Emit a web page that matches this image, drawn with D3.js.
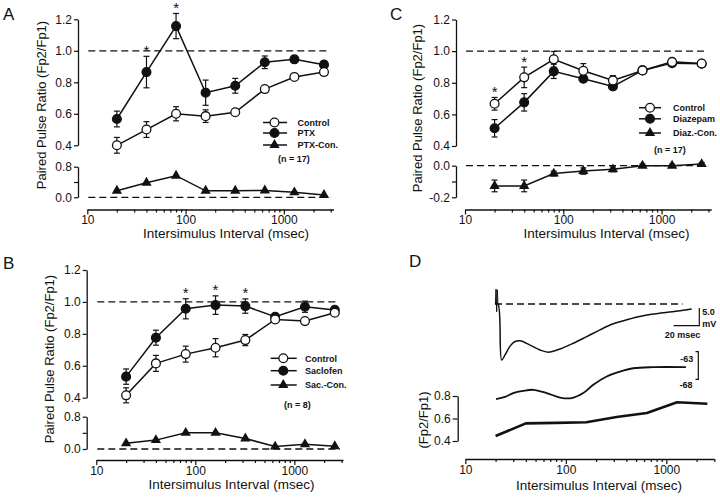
<!DOCTYPE html>
<html><head><meta charset="utf-8">
<script src="https://cdn.jsdelivr.net/npm/d3@7"></script>
<style>
body{margin:0;background:#fff;}
svg{display:block;}
text{font-family:"Liberation Sans",Arial,Helvetica,sans-serif;fill:#111;}
</style></head><body>
<svg id="fig" width="720" height="500"></svg>
<script>
// ---------- data ----------
const intervals = [20, 40, 80, 160, 320, 640, 1280, 2560];
const xMajor = [10, 100, 1000];

// Panel A
const ctrlA    = [0.40, 0.50, 0.60, 0.585, 0.61, 0.757, 0.834, 0.865];
const ctrlAErr = [0.05, 0.05, 0.045, 0.04, 0.01, 0.01, 0.01, 0.01];
const ptxA     = [0.567, 0.865, 1.157, 0.734, 0.778, 0.927, 0.946, 0.912];
const ptxAErr  = [0.05, 0.10, 0.08, 0.08, 0.047, 0.04, 0.02, 0.015];
const ptxConA  = [0.17, 0.38, 0.565, 0.17, 0.17, 0.18, 0.13, 0.06];
const starsA   = [40, 80];
const legendA  = ["Control", "PTX", "PTX-Con."];
const nA = "(n = 17)";

// Panel B
const ctrlB    = [0.415, 0.615, 0.673, 0.713, 0.761, 0.89, 0.88, 0.932];
const ctrlBErr = [0.047, 0.05, 0.05, 0.057, 0.035, 0.01, 0.01, 0.01];
const sacB     = [0.532, 0.776, 0.957, 0.98, 0.974, 0.907, 0.97, 0.95];
const sacBErr  = [0.048, 0.047, 0.063, 0.058, 0.045, 0.02, 0.035, 0.01];
const sacConB  = [0.14, 0.22, 0.40, 0.40, 0.26, 0.06, 0.12, 0.07];
const starsB   = [80, 160, 320];
const legendB  = ["Control", "Saclofen", "Sac.-Con."];
const nB = "(n = 8)";

// Panel C
const ctrlC     = [0.667, 0.834, 0.948, 0.876, 0.815, 0.878, 0.932, 0.922];
const ctrlCErr  = [0.04, 0.065, 0.05, 0.045, 0.03, 0.015, 0.015, 0.01];
const diazC     = [0.512, 0.676, 0.872, 0.825, 0.777, 0.878, 0.924, 0.92];
const diazCErr  = [0.055, 0.055, 0.045, 0.02, 0.02, 0.015, 0.015, 0.01];
const diazConC  = [-0.128, -0.128, -0.05, -0.034, -0.023, 0.0, 0.0, 0.01];
const diazConCErr = [0.037, 0.037, 0.015, 0.02, 0.015, 0.01, 0.01, 0.01];
const starsC    = [20, 40];
const legendC   = ["Control", "Diazepam", "Diaz.-Con."];
const nC = "(n = 17)";

// Panel D
const pprD = [0.444, 0.557, 0.561, 0.566, 0.613, 0.649, 0.744, 0.731];
const epspT = [0, 2.3, 5.2, 7.8, 11.7, 15.6, 19.5, 27.2, 35.0, 41.5, 50.6, 60.9, 71.4, 81.7, 92.1, 105.1, 118.1, 131.0, 144.0, 153.1];
const epspV = [0, 0, -15.8, -14.4, -11.9, -10.6, -10.4, -11.6, -13.0, -13.6, -12.7, -11.1, -9.2, -7.3, -5.6, -4.2, -3.1, -2.5, -1.9, -1.4];
const artifactT = [0.3, 0.8, 1.3, 1.8, 2.3];
const artifactV = [0, 4.2, -2.2, 4.0, 0];
const restT = [0.8, 7.8, 14.2, 21.8, 29.8, 40.2, 50.6, 59.7, 68.7, 76.5, 86.9, 97.3, 107.6, 123.2, 148.6];
const restV = [-71.6, -71.2, -70.5, -70.1, -69.9, -70.5, -71.3, -71.4, -70.5, -69.0, -67.5, -66.6, -66.0, -65.8, -65.8];

// ---------- drawing ----------
const svg = d3.select("#fig");
const INK = "#111";
const FONT = "'Liberation Sans',Arial,Helvetica,sans-serif";
const SMALL = 9;

function logTicks(max) {
  const t = [];
  for (let e = 1; e <= 3; e++) for (let m = 1; m <= 9; m++) { const v = m * Math.pow(10, e); if (v <= max) t.push(v); }
  return t;
}
function styleAxis(ax, fs) {
  ax.attr("font-size", fs).attr("font-family", FONT);
  ax.select(".domain").attr("stroke", INK).attr("stroke-width", 1.3);
  ax.selectAll(".tick line").attr("stroke", INK).attr("stroke-width", 1.2);
}
function xAxis(g, x, y, title, tx, ty) {
  const ax = g.append("g").attr("transform", `translate(0,${y})`)
    .call(d3.axisBottom(x).tickValues(logTicks(x.domain()[1])).tickSize(5).tickSizeOuter(0).tickPadding(1)
      .tickFormat(d => xMajor.includes(d) ? String(d) : ""));
  styleAxis(ax, 12);
  ax.selectAll(".tick").filter(d => !xMajor.includes(d)).select("line").attr("y2", 3);
  g.append("text").attr("x", tx).attr("y", ty).attr("text-anchor", "middle").attr("font-size", 13.5).text(title);
}
function yAxis(g, y, xPos, ticks, labeled) {
  const ax = g.append("g").attr("transform", `translate(${xPos},0)`)
    .call(d3.axisLeft(y).tickValues(ticks).tickSize(4).tickSizeOuter(0).tickPadding(2)
      .tickFormat(d => labeled.some(l => Math.abs(l - d) < 1e-9) ? d.toFixed(1) : ""));
  styleAxis(ax, 12);
  return ax;
}
function yTitle(g, cx, cy, txt) {
  g.append("text").attr("transform", `translate(${cx},${cy}) rotate(-90)`).attr("dy", "0.35em")
    .attr("text-anchor", "middle").attr("font-size", 13).text(txt);
}
function dashed(g, x1, x2, y) {
  g.append("line").attr("x1", x1).attr("x2", x2).attr("y1", y).attr("y2", y)
    .attr("stroke", INK).attr("stroke-width", 1.3).attr("stroke-dasharray", "7,4");
}
const tri = d3.symbol().type(d3.symbolTriangle).size(46);

function series(g, x, y, vals, errs, kind) {
  const pts = intervals.map((t, i) => ({ t, v: vals[i], e: errs ? errs[i] : 0 }));
  g.append("path").datum(pts).attr("fill", "none").attr("stroke", INK).attr("stroke-width", 1.5)
    .attr("d", d3.line().x(d => x(d.t)).y(d => y(d.v)));
  if (errs) {
    const eb = g.append("g").attr("stroke", INK).attr("stroke-width", 1.2);
    pts.forEach(d => {
      const cx = x(d.t);
      eb.append("line").attr("x1", cx).attr("x2", cx).attr("y1", y(d.v - d.e)).attr("y2", y(d.v + d.e));
      [d.v - d.e, d.v + d.e].forEach(v => eb.append("line").attr("x1", cx - 3).attr("x2", cx + 3).attr("y1", y(v)).attr("y2", y(v)));
    });
  }
  pts.forEach(d => marker(g, x(d.t), y(d.v), kind));
}
function marker(g, cx, cy, kind) {
  if (kind === "tri") {
    g.append("path").attr("d", tri).attr("transform", `translate(${cx},${cy})`).attr("fill", INK);
  } else {
    g.append("circle").attr("cx", cx).attr("cy", cy).attr("r", 4.4)
      .attr("fill", kind === "open" ? "#fff" : INK).attr("stroke", INK).attr("stroke-width", 1.3);
  }
}
function stars(g, x, y, vals, errs, list) {
  list.forEach(t => {
    const i = intervals.indexOf(t);
    const top = y(vals[i] + errs[i]) - 5;
    g.append("text").attr("x", x(t)).attr("y", top + 4.5).attr("text-anchor", "middle").attr("font-size", 15).text("*");
  });
}
function legend(g, labels, L) {
  const kinds = ["open", "filled", "tri"];
  labels.forEach((lab, i) => {
    const yy = L.rows[i];
    g.append("line").attr("x1", L.x1).attr("x2", L.x2).attr("y1", yy).attr("y2", yy).attr("stroke", INK).attr("stroke-width", 1.5);
    marker(g, L.mx, yy, kinds[i]);
    g.append("text").attr("x", L.tx).attr("y", yy + 3.3).attr("font-size", SMALL).attr("font-weight", "bold").text(lab);
  });
  g.append("text").attr("x", L.nx).attr("y", L.ny + 3.3).attr("font-size", SMALL).attr("font-weight", "bold").text(L.n);
}
function letter(x, y, s) {
  svg.append("text").attr("x", x).attr("y", y).attr("font-size", 17).text(s);
}

const upperTicks = [0.4, 0.6, 0.8, 1.0, 1.2];
const xTitle = "Intersimulus Interval (msec)";
const yTitleTxt = "Paired Pulse Ratio (Fp2/Fp1)";

function pprPanel(c) {
  const g = svg.append("g");
  yAxis(g, c.yU, c.yAxisX, upperTicks, upperTicks);
  yAxis(g, c.yL, c.yAxisX, c.lowTicks, c.lowLabels);
  xAxis(g, c.x, c.xAxisY, xTitle, c.xtx, c.xty);
  yTitle(g, c.ytx, c.yty, yTitleTxt);
  const r = c.x.range();
  dashed(g, r[0] + 1, r[1] - 5, c.yU(1.0));
  dashed(g, r[0] + 1, r[1] - 3, c.yL(0));
  series(g, c.x, c.yL, c.diff, c.diffErr, "tri");
  series(g, c.x, c.yU, c.treat, c.treatErr, "filled");
  series(g, c.x, c.yU, c.ctrl, c.ctrlErr, "open");
  stars(g, c.x, c.yU, c.starVals, c.starErrs, c.stars);
  legend(g, c.labels, c.L);
}

// Panel A
const xA = d3.scaleLog().domain([10, 3200]).range([87.3, 333.5]);
pprPanel({
  x: xA, yU: d3.scaleLinear().domain([0.4, 1.2]).range([145.3, 19.3]),
  yL: d3.scaleLinear().domain([0, 0.8]).range([197.3, 166.7]),
  yAxisX: 78, xAxisY: 209.5, lowTicks: [0, 0.4, 0.8], lowLabels: [0, 0.8],
  xtx: 226, xty: 237.5, ytx: 41.5, yty: 105,
  ctrl: ctrlA, ctrlErr: ctrlAErr, treat: ptxA, treatErr: ptxAErr, diff: ptxConA, diffErr: null,
  stars: starsA, starVals: ptxA, starErrs: ptxAErr, labels: legendA,
  L: { x1: 263, x2: 287, mx: 274.5, tx: 297.5, rows: [122.5, 133, 145], n: nA, nx: 278, ny: 158.5 }
});
letter(3, 20, "A");

// Panel B
const xB = d3.scaleLog().domain([10, 3100]).range([96.3, 343]);
pprPanel({
  x: xB, yU: d3.scaleLinear().domain([0.4, 1.2]).range([397.7, 270]),
  yL: d3.scaleLinear().domain([0, 0.8]).range([449, 416.7]),
  yAxisX: 86.7, xAxisY: 460, lowTicks: [0, 0.4, 0.8], lowLabels: [0, 0.8],
  xtx: 231.5, xty: 489, ytx: 49.5, yty: 359,
  ctrl: ctrlB, ctrlErr: ctrlBErr, treat: sacB, treatErr: sacBErr, diff: sacConB, diffErr: null,
  stars: starsB, starVals: sacB, starErrs: sacBErr, labels: legendB,
  L: { x1: 270.7, x2: 296.7, mx: 283.3, tx: 305, rows: [358.3, 370.7, 385], n: nB, nx: 284, ny: 405 }
});
letter(3, 269, "B");

// Panel C
const xC = d3.scaleLog().domain([10, 3200]).range([465, 711.2]);
pprPanel({
  x: xC, yU: d3.scaleLinear().domain([0.4, 1.2]).range([146, 19.5]),
  yL: d3.scaleLinear().domain([-0.2, 0]).range([197.3, 165.7]),
  yAxisX: 456, xAxisY: 209.5, lowTicks: [-0.2, -0.1, 0], lowLabels: [-0.2, 0],
  xtx: 606.5, xty: 237.5, ytx: 417.5, yty: 108,
  ctrl: ctrlC, ctrlErr: ctrlCErr, treat: diazC, treatErr: diazCErr, diff: diazConC, diffErr: diazConCErr,
  stars: starsC, starVals: ctrlC, starErrs: ctrlCErr, labels: legendC,
  L: { x1: 639, x2: 661, mx: 650, tx: 673, rows: [107.7, 118.8, 133], n: nC, nx: 654, ny: 150 }
});
letter(390, 20, "C");

// Panel D
(function () {
  const g = svg.append("g");
  const xD = d3.scaleLog().domain([10, 3000]).range([465.3, 714.3]);
  const yD = d3.scaleLinear().domain([0.4, 0.8]).range([441, 396]);
  const ax = g.append("g").attr("transform", "translate(457.7,0)")
    .call(d3.axisLeft(yD).tickValues([0.4, 0.6, 0.8]).tickSize(5).tickSizeOuter(0).tickPadding(2).tickFormat(d => d.toFixed(1)));
  styleAxis(ax, 12);
  xAxis(g, xD, 459, xTitle, 599, 490);
  g.append("text").attr("transform", "translate(423,420) rotate(-90)").attr("dy", "0.35em")
    .attr("text-anchor", "middle").attr("font-size", 13).text("(Fp2/Fp1)");
  // PPR curve
  g.append("path").datum(intervals.map((t, i) => [t, pprD[i]])).attr("fill", "none")
    .attr("stroke", INK).attr("stroke-width", 2.6).attr("stroke-linejoin", "round")
    .attr("d", d3.line().x(d => xD(d[0])).y(d => yD(d[1])));

  // traces (linear time)
  const tX = d3.scaleLinear().domain([0, 20]).range([495, 520.7]);
  const eY = d3.scaleLinear().domain([0, 5]).range([304, 286.3]);
  const rY = d3.scaleLinear().domain([-68, -63]).range([379.3, 351.7]);
  dashed(g, tX(0), tX(146), eY(0));
  g.append("path").datum(artifactT.map((t, i) => [t, artifactV[i]])).attr("fill", "none")
    .attr("stroke", INK).attr("stroke-width", 1).attr("d", d3.line().x(d => tX(d[0])).y(d => eY(d[1])));
  g.append("path").datum(epspT.map((t, i) => [t, epspV[i]])).attr("fill", "none")
    .attr("stroke", INK).attr("stroke-width", 1.5)
    .attr("d", d3.line().curve(d3.curveCatmullRom.alpha(0.5)).x(d => tX(d[0])).y(d => eY(d[1])));
  g.append("path").datum(restT.map((t, i) => [t, restV[i]])).attr("fill", "none")
    .attr("stroke", INK).attr("stroke-width", 1.8)
    .attr("d", d3.line().curve(d3.curveCatmullRom.alpha(0.5)).x(d => tX(d[0])).y(d => rY(d[1])));

  // scale bar 20 msec / 5 mV
  const bx = tX(159);
  g.append("path").attr("fill", "none").attr("stroke", INK).attr("stroke-width", 1.2)
    .attr("d", `M${bx},${eY(-1.1)}V${eY(-6.1)}H${tX(139)}`);
  g.append("text").attr("x", bx + 3).attr("y", 315).attr("font-size", SMALL).attr("font-weight", "bold").text("5.0");
  g.append("text").attr("x", bx + 3).attr("y", 326.7).attr("font-size", SMALL).attr("font-weight", "bold").text("mV");
  g.append("text").attr("x", bx + 1).attr("y", 338.3).attr("text-anchor", "end").attr("font-size", SMALL).attr("font-weight", "bold").text("20 msec");

  // -63 / -68 bracket
  g.append("path").attr("fill", "none").attr("stroke", INK).attr("stroke-width", 1.2)
    .attr("d", `M695.5,${rY(-63)}H698.3V${rY(-68)}H695.5`);
  g.append("text").attr("x", 693.3).attr("y", 361.5).attr("text-anchor", "end").attr("font-size", SMALL).attr("font-weight", "bold").text("-63");
  g.append("text").attr("x", 692.5).attr("y", 388).attr("text-anchor", "end").attr("font-size", SMALL).attr("font-weight", "bold").text("-68");
})();
letter(409, 267, "D");
</script>
</body></html>
